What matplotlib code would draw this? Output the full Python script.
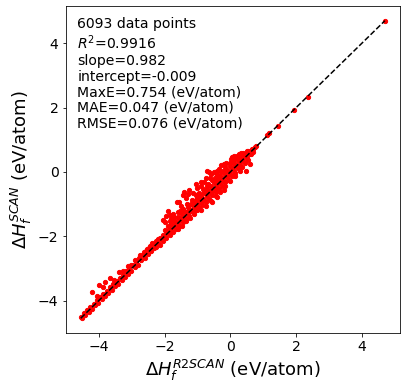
import numpy as np
import matplotlib
matplotlib.use("Agg")
import matplotlib.pyplot as plt

# narrow band, low energies
band_x = [-4.55, -4.46, -4.36, -4.27, -4.16, -4.06, -3.96, -3.87, -3.76, -3.66, -3.57, -3.46,
          -3.37, -3.26, -3.16, -3.07, -2.96, -2.86, -2.77, -2.66, -2.56, -2.47, -2.36,
          -4.50, -4.41, -4.31, -4.21, -4.11, -4.01, -3.91, -3.81, -3.71, -3.61, -3.51, -3.41,
          -3.31, -3.21, -3.11, -3.01, -2.91, -2.81, -2.71, -2.61, -2.51, -2.41, -2.31,
          -2.62, -2.54, -2.44, -2.38, -3.02, -3.52, -2.20]
band_y = [-4.50, -4.40, -4.30, -4.20, -4.11, -3.99, -3.90, -3.79, -3.70, -3.59, -3.49, -3.40,
          -3.29, -3.19, -3.09, -2.98, -2.89, -2.78, -2.69, -2.58, -2.47, -2.38, -2.28,
          -4.53, -4.46, -4.35, -4.27, -4.15, -4.07, -3.95, -3.87, -3.75, -3.67, -3.56, -3.47,
          -3.35, -3.27, -3.16, -3.07, -2.95, -2.88, -2.75, -2.68, -2.56, -2.47, -2.37,
          -2.48, -2.39, -2.30, -2.22, -2.90, -3.42, -2.08]

# wider cloud, -2.3 to 0.8
cloud_x = [-2.25, -2.15, -2.05, -1.95, -1.85, -1.75, -1.65, -1.55, -1.45, -1.35, -1.25, -1.15, -1.05,
           -2.30, -2.20, -2.10, -2.00, -1.90, -1.80, -1.70, -1.60, -1.50, -1.40, -1.30, -1.20, -1.10, -1.00,
           -2.25, -2.15, -2.05, -1.95, -1.85, -1.75, -1.65, -1.55, -1.45, -1.35, -1.25, -1.15, -1.05,
           -2.00, -1.90, -1.80, -1.70, -1.60, -1.50, -1.40, -1.30, -1.20, -1.10, -1.00,
           -1.85, -1.72, -1.58, -1.45, -1.32, -1.18, -1.05,
           -1.60, -1.48, -1.36, -1.24, -1.12, -1.02,
           -0.90, -0.75, -0.60, -0.45, -0.30, -0.15, 0.00, 0.15, 0.30, -0.55, -0.40, -0.20,
           -0.95, -0.85, -0.75, -0.65, -0.55, -0.45, -0.35, -0.25, -0.15, -0.05, 0.05, 0.15, 0.25, 0.35, 0.45, 0.55,
           -1.00, -0.90, -0.80, -0.70, -0.60, -0.50, -0.40, -0.30, -0.20, -0.10, 0.00, 0.10, 0.20, 0.30, 0.40, 0.50, 0.60,
           -0.95, -0.85, -0.75, -0.65, -0.55, -0.45, -0.35, -0.25, -0.15, -0.05, 0.05, 0.15, 0.25, 0.35, 0.45, 0.55, 0.65,
           -1.00, -0.90, -0.80, -0.70, -0.60, -0.50, -0.40, -0.30, -0.20, -0.10, 0.00, 0.10, 0.20, 0.30, 0.40, 0.50,
           -0.95, -0.82, -0.68, -0.55, -0.42, -0.28, -0.15, -0.02, 0.12, 0.25,
           -0.88, -0.62, -0.40, -0.18, 0.05,
           0.60, 0.66, 0.70, 0.74, 0.78, 0.62, 0.68,
           -1.78, -1.52, -1.28, -0.98, -0.72, -0.48, -0.22, 0.08, 0.32]
cloud_y = [-2.34, -2.26, -2.14, -2.06, -1.95, -1.86, -1.76, -1.67, -1.56, -1.46, -1.37, -1.26, -1.17,
           -2.29, -2.21, -2.09, -2.01, -1.89, -1.81, -1.69, -1.61, -1.49, -1.41, -1.29, -1.21, -1.09, -1.01,
           -2.16, -2.04, -1.96, -1.84, -1.76, -1.64, -1.56, -1.44, -1.36, -1.24, -1.16, -1.04, -0.96,
           -1.81, -1.69, -1.61, -1.49, -1.41, -1.29, -1.21, -1.09, -1.01, -0.89, -0.81,
           -1.52, -1.41, -1.25, -1.14, -0.99, -0.87, -0.72,
           -1.78, -1.67, -1.53, -1.43, -1.30, -1.19,
           -1.19, -1.06, -0.91, -0.74, -0.61, -0.44, -0.29, -0.14, 0.02, -0.94, -0.78, -0.56,
           -1.13, -1.04, -0.92, -0.84, -0.72, -0.64, -0.52, -0.44, -0.32, -0.24, -0.12, -0.04, 0.08, 0.16, 0.28, 0.38,
           -1.06, -0.95, -0.87, -0.76, -0.65, -0.57, -0.46, -0.35, -0.27, -0.16, -0.05, 0.03, 0.15, 0.23, 0.35, 0.44, 0.55,
           -0.89, -0.80, -0.68, -0.59, -0.49, -0.38, -0.29, -0.19, -0.08, 0.01, 0.11, 0.22, 0.31, 0.41, 0.50, 0.61, 0.70,
           -0.82, -0.73, -0.61, -0.52, -0.43, -0.31, -0.22, -0.13, -0.01, 0.07, 0.18, 0.27, 0.39, 0.47, 0.57, 0.66,
           -0.65, -0.52, -0.37, -0.26, -0.11, 0.01, 0.16, 0.27, 0.41, 0.53,
           -0.45, -0.20, 0.03, 0.24, 0.46,
           0.62, 0.66, 0.72, 0.78, 0.80, 0.55, 0.62,
           -1.53, -1.20, -1.02, -0.70, -0.44, -0.20, 0.02, 0.36, 0.58]

# points well off the diagonal
outlier_x = [-4.20, -3.99, -3.86, -3.81, -3.65, -3.55, -3.38, -3.25, -3.10, -2.90, -4.05, -2.75,
             -2.05, -2.00, -1.95, -1.91, -1.85, -1.80, -1.75, -1.62, -1.55, -1.50, -1.45, -1.40,
             -1.35, -1.28, -1.25, -1.15, -1.05, -1.00, -0.90, -0.80, -0.75, -0.70, -0.64, -0.58,
             -0.50, -0.45, -0.35, -0.28, -0.13, 0.02, 0.10, 0.20, 0.27, 0.40, 0.53,
             0.48, 0.61]
outlier_y = [-3.73, -3.53, -3.59, -3.41, -3.29, -3.35, -3.11, -3.07, -2.91, -2.74, -3.86, -2.58,
             -1.50, -1.55, -1.38, -1.21, -1.35, -1.45, -1.30, -0.92, -0.95, -1.05, -0.71, -0.64,
             -0.80, -0.68, -0.55, -0.65, -0.39, -0.50, -0.30, -0.30, -0.19, 0.02, 0.00, -0.05,
             0.00, -0.02, 0.08, 0.20, 0.29, 0.39, 0.48, 0.50, 0.55, 0.60, 0.65,
             0.03, 0.26]

# few high-energy points
sparse_x = [1.13, 1.19, 1.46, 1.93, 2.36, 4.70]
sparse_y = [1.15, 1.20, 1.44, 1.91, 2.33, 4.68]

x = np.array(band_x + cloud_x + outlier_x + sparse_x)
y = np.array(band_y + cloud_y + outlier_y + sparse_y)

stats = ["6093 data points", "$R^2$=0.9916", "slope=0.982", "intercept=-0.009",
         "MaxE=0.754 (eV/atom)", "MAE=0.047 (eV/atom)", "RMSE=0.076 (eV/atom)"]

fig = plt.figure(figsize=(407 / 72, 391 / 72), dpi=72)
ax = fig.add_axes([0.161, 0.148, 0.822, 0.837])

ax.scatter(x, y, s=18, c="red")
lo = min(x.min(), y.min())
hi = max(x.max(), y.max())
ax.plot([lo, hi], [lo, hi], "k--", lw=1.5)

ax.text(0.035, 0.965, "\n".join(stats), transform=ax.transAxes, fontsize=14,
        va="top", ha="left", linespacing=1.15)

ax.set_xlabel(r"$\Delta H_f^{R2SCAN}$ (eV/atom)", fontsize=18)
ax.set_ylabel(r"$\Delta H_f^{SCAN}$ (eV/atom)", fontsize=18)
ax.tick_params(labelsize=14)
ax.set_xticks([-4, -2, 0, 2, 4])
ax.set_yticks([-4, -2, 0, 2, 4])

fig.savefig("out.png", dpi=72)
